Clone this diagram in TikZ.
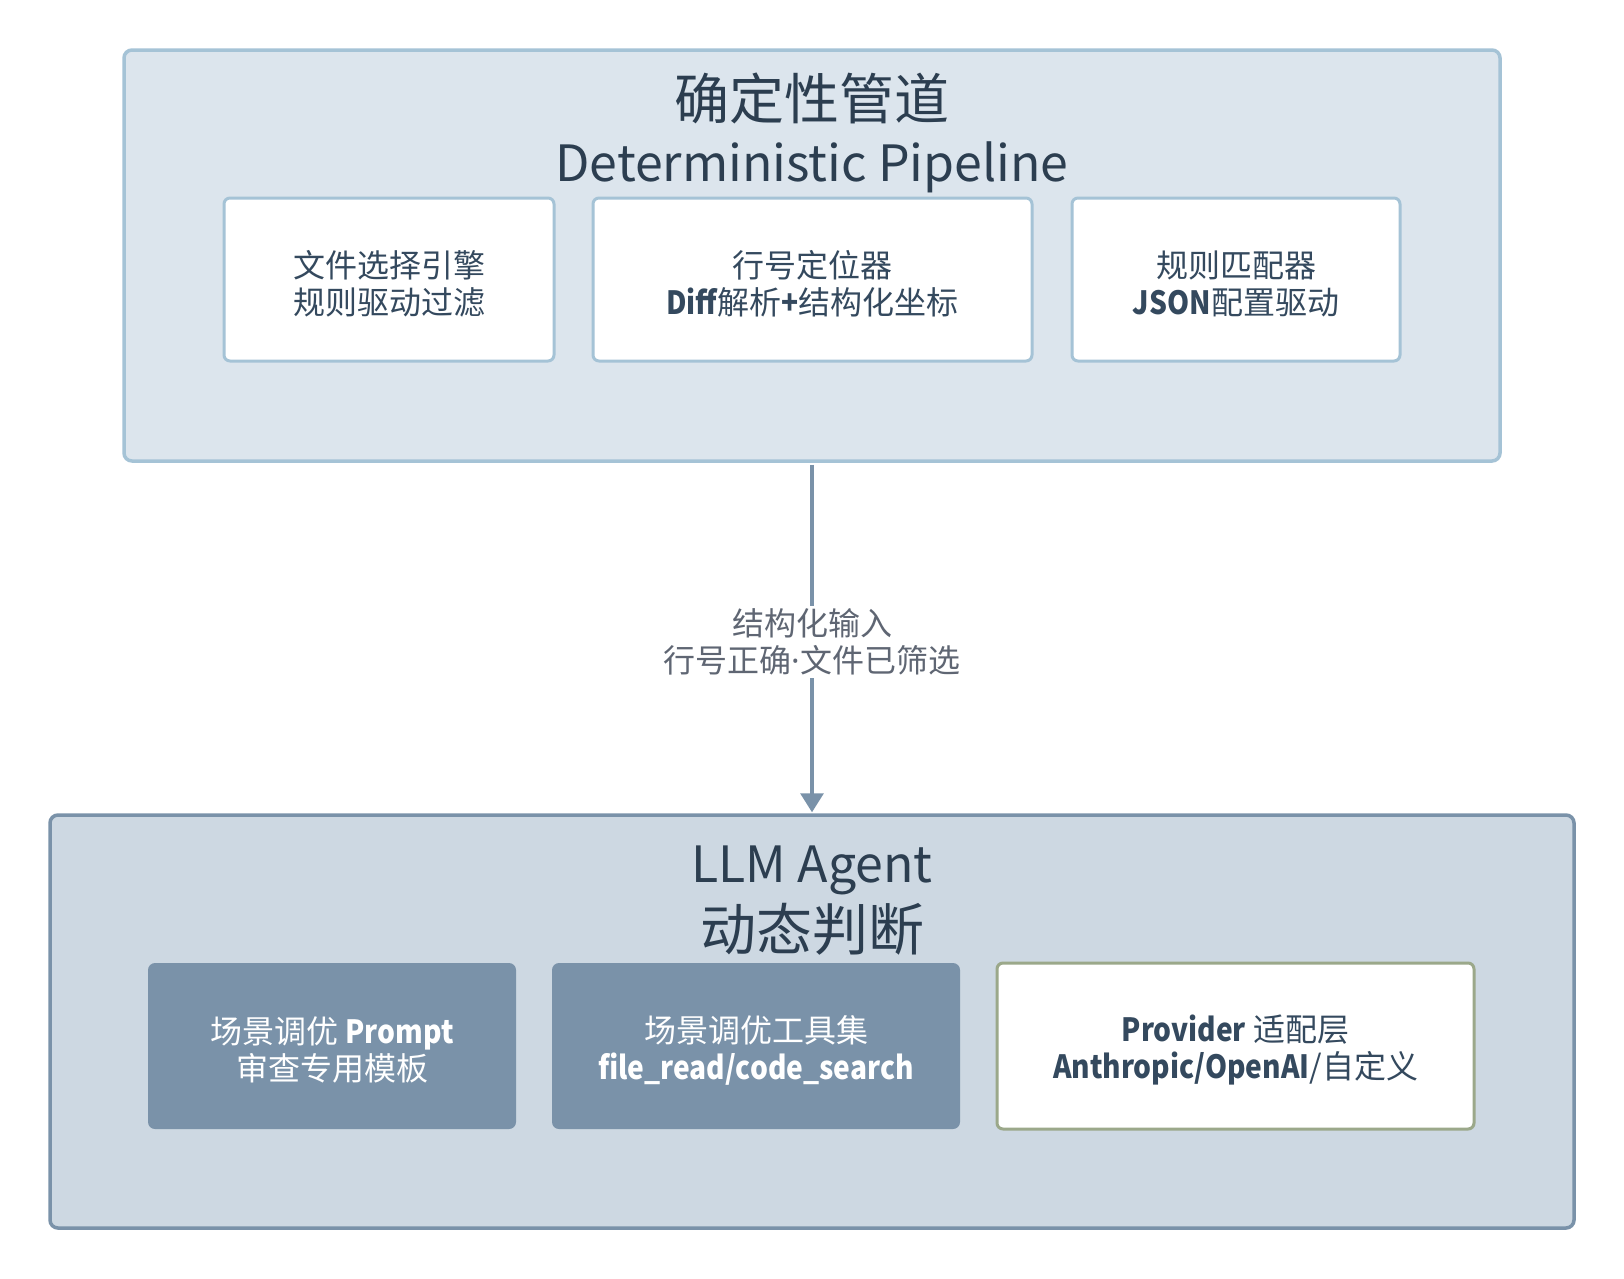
\documentclass[tikz,border=0pt]{standalone}
\usepackage{fontspec}
\setmainfont{Noto Sans CJK SC}
\newfontfamily\dotfont{Noto Sans}
\usetikzlibrary{arrows.meta}
\definecolor{topfill}{HTML}{DCE5ED}
\definecolor{topborder}{HTML}{A5C3D6}
\definecolor{botfill}{HTML}{CDD8E2}
\definecolor{botborder}{HTML}{7A92A9}
\definecolor{darkbox}{HTML}{7A92A9}
\definecolor{olive}{HTML}{9BA88A}
\definecolor{ink}{HTML}{2C3E50}
\definecolor{boxink}{HTML}{34495E}
\definecolor{labelink}{HTML}{5F6673}
\newcommand\lb[1]{{\bfseries\addfontfeatures{FakeStretch=0.88}#1}}
\tikzset{
  topcont/.style={draw=topborder, fill=topfill, line width=3.5pt, rounded corners=8pt, inner sep=0pt},
  botcont/.style={draw=botborder, fill=botfill, line width=3.5pt, rounded corners=8pt, inner sep=0pt},
  boxtext/.style={align=center, font=\fontsize{32}{37}\selectfont, inner sep=0pt, yshift=-4pt},
  whitebox/.style={draw=topborder, fill=white, line width=3pt, rounded corners=6pt, inner sep=0pt},
  darkbx/.style={draw=none, fill=darkbox, rounded corners=7pt, inner sep=0pt},
  provbox/.style={draw=olive, fill=white, line width=3pt, rounded corners=6pt, inner sep=0pt},
  bigtitle/.style={text=ink, inner sep=0pt},
  flow/.style={draw=darkbox, line width=3.2pt, -{Triangle[width=23pt,length=19pt]}},
  flowlabel/.style={fill=white, text=labelink, align=center, font=\fontsize{32}{37}\selectfont, inner sep=3pt}
}
\begin{document}
\begin{tikzpicture}[x=1pt,y=-1pt]
\useasboundingbox[fill=white] (0,0) rectangle (1624,1278);

% top container
\node[topcont, minimum width=1376pt, minimum height=411pt] (top) at (812,255.5) {};
\node[bigtitle, font=\fontsize{55}{60}\selectfont] (toptitle) at (812,98) {确定性管道};
\node[bigtitle, font=\fontsize{50}{56}\selectfont] (topsub) at (812,167) {Deterministic Pipeline};

\node[whitebox, minimum width=330pt, minimum height=163pt,
  label={[boxtext, text=boxink]center:文件选择引擎\\规则驱动过滤}] (b1) at (389,279.5) {};
\node[whitebox, minimum width=439pt, minimum height=163pt,
  label={[boxtext, text=boxink]center:行号定位器\\\lb{Diff}解析\lb{+}结构化坐标}] (b2) at (812.5,279.5) {};
\node[whitebox, minimum width=328pt, minimum height=163pt,
  label={[boxtext, text=boxink]center:规则匹配器\\\lb{JSON}配置驱动}] (b3) at (1236,279.5) {};

% bottom container
\node[botcont, minimum width=1524pt, minimum height=413pt] (bot) at (812,1021.5) {};
\node[bigtitle, font=\fontsize{50}{56}\selectfont] (bottitle) at (812,870) {LLM Agent};
\node[bigtitle, font=\fontsize{56}{60}\selectfont] (botsub) at (812,929) {动态判断};

\node[darkbx, minimum width=368pt, minimum height=166pt,
  label={[boxtext, text=white]center:场景调优 \lb{Prompt}\\审查专用模板}] (c1) at (332,1046) {};
\node[darkbx, minimum width=408pt, minimum height=166pt,
  label={[boxtext, text=white]center:场景调优工具集\\\lb{file\_read/code\_search}}] (c2) at (756,1046) {};
\node[provbox, minimum width=477pt, minimum height=166pt,
  label={[boxtext, text=boxink]center:\lb{Provider} 适配层\\\lb{Anthropic/OpenAI}/自定义}] (c3) at (1235.5,1046) {};

% connector
\draw[flow, shorten <=2pt, shorten >=1pt] (top.south) -- node[flowlabel, midway, yshift=-4pt] (lbl) {结构化输入\\行号正确{\dotfont ·}文件已筛选} (bot.north);
\end{tikzpicture}
\end{document}
